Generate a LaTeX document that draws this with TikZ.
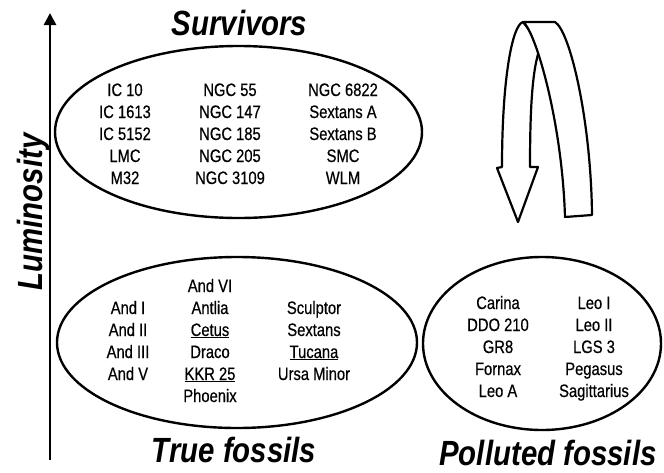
\documentclass[tikz,border=0pt]{standalone}
\usepackage{fontspec}
\setmainfont{Liberation Sans}
\newfontfamily\labfont[FakeStretch=0.82,FakeBold=0.5]{Liberation Sans}
\newfontfamily\ttlfont[FakeStretch=0.84]{Liberation Sans}
\usetikzlibrary{shapes.geometric,arrows.meta}
\tikzset{
  blob/.style={draw, ellipse, line width=2.4pt, inner sep=0pt},
  lab/.style={anchor=base, inner sep=0pt, font=\labfont\fontsize{18}{20}\selectfont},
  ttl/.style={anchor=base, inner sep=0pt, font=\ttlfont\bfseries\itshape\fontsize{35}{40}\selectfont},
  ribbon/.style={draw, fill=white, line width=2.2pt, line join=round},
  axis/.style={line width=2.6pt, -{Triangle[length=12pt,width=12pt]}}
}
\begin{document}
\begin{tikzpicture}[x=1pt,y=-1pt]
\useasboundingbox (0,0) rectangle (664,472);
% axis
\coordinate (axb) at (50,460);
\coordinate (axt) at (50,13);
\draw[axis] (axb) -- (axt);
\node[ttl, rotate=90] (lum) at (42,212) {Luminosity};
% ellipses
\node[blob, minimum width=367pt, minimum height=172pt] (surv) at (238.5,132) {};
\node[blob, minimum width=360pt, minimum height=171pt] (true) at (237,342.5) {};
\node[blob, minimum width=238pt, minimum height=173pt] (poll) at (542,343.5) {};
% titles
\node[ttl] (tsurv) at (239.5,35) {Survivors};
\node[ttl] (ttrue) at (234,462) {True fossils};
\node[ttl] (tpoll) at (548,465) {Polluted fossils};
% survivors
\foreach \t [count=\i from 0] in {IC 10, IC 1613, IC 5152, LMC, M32}
  \node[lab] (sa\i) at (125,{96+22*\i}) {\t};
\foreach \t [count=\i from 0] in {NGC 55, NGC 147, NGC 185, NGC 205, NGC 3109}
  \node[lab] (sb\i) at (230,{96+22*\i}) {\t};
\foreach \t [count=\i from 0] in {NGC 6822, Sextans A, Sextans B, SMC, WLM}
  \node[lab] (sc\i) at (343,{96+22*\i}) {\t};
% true fossils
\foreach \t [count=\i from 1] in {And I, And II, And III, And V}
  \node[lab] (ta\i) at (128,{292+22*\i}) {\t};
\foreach \t [count=\i from 0] in {And VI, Antlia, \underline{Cetus}, Draco, \underline{KKR 25}, Phoenix}
  \node[lab] (tb\i) at (210,{292+22*\i}) {\t};
\foreach \t [count=\i from 1] in {Sculptor, Sextans, \underline{Tucana}, Ursa Minor}
  \node[lab] (tc\i) at (314,{292+22*\i}) {\t};
% polluted fossils
\foreach \t [count=\i from 0] in {Carina, DDO 210, GR8, Fornax, Leo A}
  \node[lab] (pa\i) at (498,{309+22*\i}) {\t};
\foreach \t [count=\i from 0] in {Leo I, Leo II, LGS 3, Pegasus, Sagittarius}
  \node[lab] (pb\i) at (594,{309+22*\i}) {\t};
% U-turn ribbon arrow
\draw[ribbon] (523,22) .. controls (512,25) and (502,80) .. (502,167)
  -- (497,168) -- (518,222) -- (538,167) -- (530,167)
  .. controls (530,100) and (533,65) .. (541,45) -- cycle;
\draw[ribbon] (523,22) -- (555,22) .. controls (570,31) and (591,120) .. (592,215)
  -- (565,217) .. controls (562,120) and (535,30) .. cycle;
\end{tikzpicture}
\end{document}
